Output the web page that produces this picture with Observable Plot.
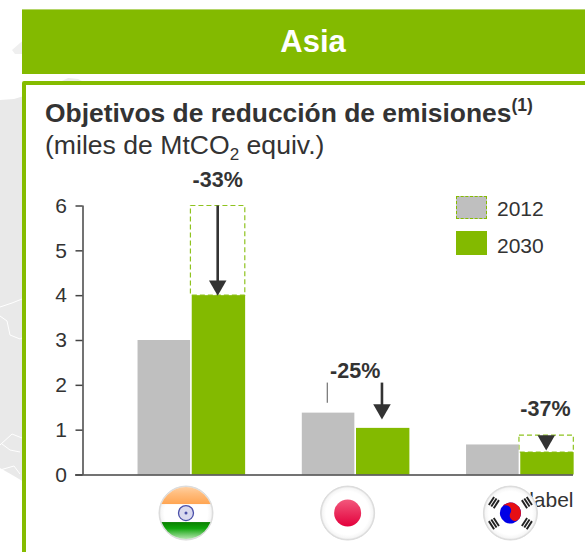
<!DOCTYPE html>
<html lang="es">
<head>
<meta charset="utf-8">
<script src="https://cdn.jsdelivr.net/npm/d3@7"></script>
<script src="https://cdn.jsdelivr.net/npm/@observablehq/plot@0.6"></script>
<style>
html,body{margin:0;padding:0;background:#fff;}
#page{position:relative;width:585px;height:552px;overflow:hidden;font-family:"Liberation Sans",Arial,sans-serif;color:#333;}
#page>*{position:absolute;}
#map{left:0;top:0;}
#header{left:22px;top:9px;width:563px;height:65px;background:#83ba00;border-top:1px solid #b5d56a;box-sizing:border-box;color:#fff;font-weight:bold;font-size:31px;line-height:64px;text-align:center;padding-left:19px;}
#panel{left:22px;top:81px;width:570px;height:480px;box-sizing:border-box;border:4px solid #85bc00;border-radius:2px 0 0 0;background:#fff;}
#t1{left:45px;top:99px;font-size:26.4px;font-weight:bold;white-space:nowrap;line-height:28px;}
#t1 sup{font-size:17.5px;line-height:0;position:relative;top:-1px;vertical-align:super;}
#t2{left:45px;top:130px;font-size:26.6px;white-space:nowrap;line-height:30px;}
#t2 sub{font-size:17px;line-height:0;}
.sw{left:456px;width:31px;height:23px;box-sizing:border-box;}
.lg{left:497px;font-size:21px;line-height:24px;}
#chart{left:0;top:0;}
</style>
</head>
<body>
<div id="page">
<svg id="map" width="585" height="552">
<path d="M0 100L14 99L24 96L24 482L14 476L0 468Z" fill="#e9e9e9"/>
<path d="M60 82L68 78L78 79L84 82Z" fill="#ececec"/>
<path d="M12 50L20 43L24 40L24 54L15 54Z" fill="#efefef"/>
<path d="M0 307L12 303L22 299M0 316L7 321L10 335L20 339L22 338M0 445L12 434L22 438M2 444L10 450L20 452M0 470L14 466L20 474" fill="none" stroke="#fff" stroke-width="1"/>
</svg>
<div id="header">Asia</div>
<div id="panel"></div>
<div id="t1">Objetivos de reducción de emisiones<sup>(1)</sup></div>
<div id="t2">(miles de MtCO<sub>2</sub> equiv.)</div>
<div class="sw" style="top:196px;background:#bfbfbf;border:1px dashed #85bc00;"></div>
<div class="sw" style="top:231px;height:24px;background:#83ba00;"></div>
<div class="lg" style="top:197px;">2012</div>
<div class="lg" style="top:234px;">2030</div>
<div id="chart"></div>
</div>
<script>
const countries = ["India", "Japón", "Corea del Sur"];
const flags = ["in", "jp", "kr"];
const values2012 = [3.0, 1.38, 0.67];
const values2030 = [4.0, 1.04, 0.5];
const targetsFrom = [6.0, null, 0.88];     // dashed 2012-reference outline
const arrowTop = [6.0, 2.05, null];
const arrowTip = [4.0, 1.24, 0.55];
const changes = ["-33%", "-25%", "-37%"];
const changeY = [6.57, 2.31, 1.46];
const changeDx = [0.16, -0.003, 0.155];
const yTicks = [0, 1, 2, 3, 4, 5, 6];

const ink = "#333";
const grey = "#bfbfbf";
const green = "#83ba00";

const idx = countries.map((_, i) => i);
const outlined = idx.filter(i => targetsFrom[i] != null);
const lined = idx.filter(i => arrowTop[i] != null);

function flagMark(index, scales) {
  const g = d3.create("svg:g");
  const defs = g.append("defs");
  const mk = (id, cfg, stops) => {
    const r = defs.append(cfg.type === "r" ? "radialGradient" : "linearGradient").attr("id", id);
    if (cfg.type === "l") r.attr("x1", 0).attr("y1", 0).attr("x2", 0).attr("y2", 1);
    stops.forEach(([o, c]) => r.append("stop").attr("offset", o).attr("stop-color", c));
  };
  mk("gloss", {type: "r"}, [[0.8, "#fff"], [0.93, "#f6f6f6"], [1, "#d4d4d4"]]);
  mk("or", {type: "l"}, [[0, "#ffd2a6"], [0.4, "#ffbd7e"], [1, "#ffa552"]]);
  mk("gr", {type: "l"}, [[0, "#0a7f00"], [0.35, "#0fa50a"], [0.75, "#7fd07a"], [1, "#c4ebc0"]]);
  mk("jp", {type: "l"}, [[0, "#f2587c"], [1, "#e3003c"]]);
  defs.append("clipPath").attr("id", "disc").append("circle").attr("r", 26);

  flags.forEach((f, i) => {
    const offs = [-0.03, -0.046, -0.055][i];
    const c = g.append("g").attr("transform", `translate(${scales.x(i + offs)},${scales.y(-0.86)})`);
    c.append("circle").attr("r", 27).attr("fill", "url(#gloss)").attr("stroke", "#dcdcdc");
    if (f === "in") {
      const d = c.append("g").attr("clip-path", "url(#disc)");
      d.append("rect").attr("x", -27).attr("y", -27).attr("width", 54).attr("height", 18).attr("fill", "url(#or)");
      d.append("rect").attr("x", -27).attr("y", 9).attr("width", 54).attr("height", 18).attr("fill", "url(#gr)");
      c.append("circle").attr("r", 7.5).attr("fill", "#d9d9ee").attr("stroke", "#4a4fa8").attr("stroke-width", 1.3);
      c.append("circle").attr("r", 1.5).attr("fill", "#4a4fa8");
    } else if (f === "jp") {
      c.append("circle").attr("r", 13.5).attr("fill", "url(#jp)");
    } else {
      const t = c.append("g").attr("transform", "rotate(30)");
      t.append("circle").attr("r", 10.5).attr("fill", "#0000e6");
      t.append("path").attr("d", "M-10.5 0A10.5 10.5 0 0 1 10.5 0A5.25 5.25 0 0 1 0 0A5.25 5.25 0 0 0 -10.5 0Z").attr("fill", "#e60f14");
      [[-16.5, -10.5, 33], [16.5, -10.5, -33], [-16.5, 10.5, -33], [16.5, 10.5, 33]].forEach(([px, py, a]) => {
        const b = c.append("g").attr("transform", `translate(${px},${py}) rotate(${a})`);
        [-2.9, 0, 2.9].forEach(o => b.append("line").attr("x1", o).attr("x2", o).attr("y1", -4.8).attr("y2", 4.8).attr("stroke", "#222").attr("stroke-width", 1.9));
      });
    }
  });
  return g.node();
}

const chart = Plot.plot({
  width: 585,
  height: 552,
  marginTop: 205.5,
  marginBottom: 77.5,
  marginLeft: 82.5,
  marginRight: 12,
  style: {background: "transparent", fontFamily: '"Liberation Sans",Arial,sans-serif', color: ink, overflow: "visible"},
  x: {type: "linear", domain: [-0.66, 2.326], axis: null},
  y: {domain: [0, 6], axis: null},
  marks: [
    Plot.rectY(outlined, {
      x1: i => i - 0.003, x2: i => i + 0.328, y1: i => values2030[i], y2: i => targetsFrom[i],
      fill: "none", stroke: "#8fc31f", strokeWidth: 1.2, strokeDasharray: "5,3"
    }),
    Plot.rectY(idx, {x1: i => i - 0.325, x2: i => i - 0.005, y1: 0, y2: i => values2012[i], fill: grey}),
    Plot.rectY(idx, {x1: i => i + 0.005, x2: i => i + 0.33, y1: 0, y2: i => values2030[i], fill: green}),
    Plot.ruleY([0], {stroke: "#444", strokeWidth: 1.5, x1: -0.705, x2: 2.326}),
    Plot.ruleX([-0.66], {y1: 0, y2: 6, stroke: "#444", strokeWidth: 1.5}),
    Plot.axisY({
      ticks: yTicks, tickSize: 7, tickPadding: 9, fontSize: 21, stroke: "#444", strokeWidth: 1.5,
      tickFormat: d => String(d), anchor: "left", label: null, fill: ink
    }),
    Plot.ruleX(lined, {x: i => i + 0.16, y1: i => arrowTop[i], y2: i => arrowTip[i] + 0.3, stroke: ink, strokeWidth: 2.6}),
    Plot.dot(idx, {x: i => i + 0.16, y: i => arrowTip[i], dy: -10, symbol: "triangle", rotate: 180, r: 6.5, fill: ink, stroke: "none"}),
    Plot.ruleX([1], {x: 1 - 0.173, y1: 1.6, y2: 2.05, stroke: "#555", strokeWidth: 1}),
    Plot.text(idx, {x: i => i + changeDx[i], y: i => changeY[i], text: i => changes[i], fontSize: 21.5, fontWeight: "bold", fill: ink}),
    Plot.text(["label"], {x: 2.326, y: -0.57, text: d => d, textAnchor: "end", fontSize: 21, fill: ink}),
    flagMark
  ]
});
document.getElementById("chart").appendChild(chart);
</script>
</body>
</html>
